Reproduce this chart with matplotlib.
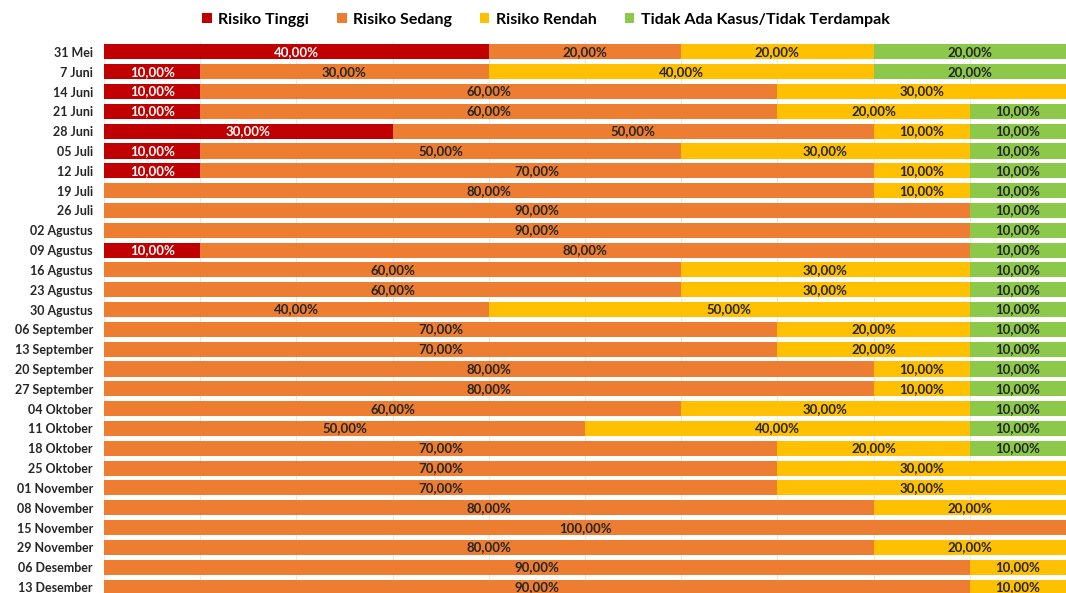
import numpy as np
import matplotlib.pyplot as plt

# minggu pengamatan
minggu = ["31 Mei", "7 Juni", "14 Juni", "21 Juni", "28 Juni", "05 Juli", "12 Juli",
          "19 Juli", "26 Juli", "02 Agustus", "09 Agustus", "16 Agustus", "23 Agustus",
          "30 Agustus", "06 September", "13 September", "20 September", "27 September",
          "04 Oktober", "11 Oktober", "18 Oktober", "25 Oktober", "01 November",
          "08 November", "15 November", "29 November", "06 Desember", "13 Desember"]

# persentase per kategori risiko
tinggi = [40, 10, 10, 10, 30, 10, 10, 0, 0, 0, 10, 0, 0, 0, 0, 0, 0, 0, 0, 0, 0, 0, 0, 0, 0, 0, 0, 0]
sedang = [20, 30, 60, 60, 50, 50, 70, 80, 90, 90, 80, 60, 60, 40, 70, 70, 80, 80, 60, 50, 70, 70, 70, 80, 100, 80, 90, 90]
rendah = [20, 40, 30, 20, 10, 30, 10, 10, 0, 0, 0, 30, 30, 50, 20, 20, 10, 10, 30, 40, 20, 30, 30, 20, 0, 20, 10, 10]
tidak_ada = [20, 20, 0, 10, 10, 10, 10, 10, 10, 10, 10, 10, 10, 10, 10, 10, 10, 10, 10, 10, 10, 0, 0, 0, 0, 0, 0, 0]

kategori = ["Risiko Tinggi", "Risiko Sedang", "Risiko Rendah", "Tidak Ada Kasus/Tidak Terdampak"]
warna = ["#C00000", "#ED7D31", "#FFC000", "#8CC94A"]
warna_teks = ["white", "#262626", "#262626", "#262626"]

plt.rcParams['font.family'] = ['Lato', 'DejaVu Sans']

fig = plt.figure(figsize=(10.66, 5.93), dpi=100)
ax = fig.add_axes([0.0976, -0.0067, 0.9024, 0.9359])

y = np.arange(len(minggu))
kiri = np.zeros(len(minggu))
for nilai, nama, w, wt in zip([tinggi, sedang, rendah, tidak_ada], kategori, warna, warna_teks):
    nilai = np.array(nilai, dtype=float)
    ax.barh(y, nilai, left=kiri, height=0.76, color=w, label=nama, zorder=2)
    for i in range(len(minggu)):
        if nilai[i] > 0:
            teks = ("%.2f%%" % nilai[i]).replace(".", ",")
            ax.text(kiri[i] + nilai[i] / 2, y[i], teks, ha="center", va="center",
                    fontsize=9.5, fontweight="bold", color=wt, zorder=3)
    kiri += nilai

ax.set_xlim(0, 100)
ax.set_ylim(len(minggu) - 0.5, -0.5)
ax.set_yticks(y)
ax.set_yticklabels(minggu, fontsize=9, fontweight="bold", color="#262626")
ax.set_xticks(np.arange(0, 101, 10))
ax.xaxis.grid(True, color="#E8E8E8", linewidth=0.8, zorder=0)
ax.tick_params(axis="both", length=0, pad=8)
ax.tick_params(axis="x", labelbottom=False)
for s in ax.spines.values():
    s.set_visible(False)

fig.legend(loc="upper center", bbox_to_anchor=(0.512, 1.003), ncol=4, frameon=False,
           handlelength=0.6, handleheight=0.6, columnspacing=1.75, handletextpad=0.4,
           prop={"weight": "bold", "size": 11.5})

fig.savefig("out.png", dpi=100)
